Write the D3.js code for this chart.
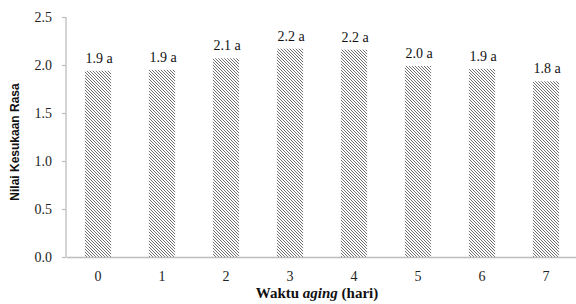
<!DOCTYPE html>
<html>
<head>
<meta charset="utf-8">
<script src="https://cdn.jsdelivr.net/npm/d3@7"></script>
<style>
  body { margin: 0; background: #fff; }
  svg { display: block; }
  .serif { font-family: "Liberation Serif", "DejaVu Serif", "Noto Serif", serif; }
  .sans { font-family: "Liberation Sans", Arial, sans-serif; }
</style>
</head>
<body>
<div id="chart"></div>
<script>
// data
const days = ["0", "1", "2", "3", "4", "5", "6", "7"];
const scores = [1.94, 1.95, 2.07, 2.17, 2.16, 1.99, 1.96, 1.83];
const labels = ["1.9 a", "1.9 a", "2.1 a", "2.2 a", "2.2 a", "2.0 a", "1.9 a", "1.8 a"];
const yTicks = [0, 0.5, 1, 1.5, 2, 2.5];

const W = 576, H = 304;
const margin = {top: 17, right: -2, bottom: 47, left: 66};
const width = W - margin.left - margin.right;
const height = H - margin.top - margin.bottom;

const svg = d3.select("#chart").append("svg")
  .attr("width", W).attr("height", H);

// hatch pattern (dark downward diagonal)
const defs = svg.append("defs");
const pat = defs.append("pattern")
  .attr("id", "hatch")
  .attr("patternUnits", "userSpaceOnUse")
  .attr("width", 3).attr("height", 3);
pat.append("rect").attr("width", 3).attr("height", 3).attr("fill", "#ffffff");
pat.append("path")
  .attr("d", "M-1,-1 L4,4 M-1,2 L1,4 M2,-1 L4,1")
  .attr("stroke", "#707070").attr("stroke-width", 1);

const g = svg.append("g")
  .attr("transform", "translate(" + margin.left + "," + margin.top + ")");

const x = d3.scaleBand().domain(days).range([0, width]).paddingInner(0.59).paddingOuter(0.295);
const y = d3.scaleLinear().domain([0, 2.5]).range([height, 0]);

// bars
g.selectAll("rect.bar").data(scores).enter().append("rect")
  .attr("class", "bar")
  .attr("x", (d, i) => x(days[i]))
  .attr("y", d => y(d))
  .attr("width", x.bandwidth())
  .attr("height", d => y(0) - y(d))
  .attr("fill", "url(#hatch)");

// value labels
g.selectAll("text.val").data(scores).enter().append("text")
  .attr("class", "val serif")
  .attr("x", (d, i) => x(days[i]) + x.bandwidth() / 2 + 1)
  .attr("y", d => y(d) - 8)
  .attr("text-anchor", "middle")
  .style("font-size", "14px")
  .attr("fill", "#111")
  .text((d, i) => labels[i]);

// y axis
const yAxis = d3.axisLeft(y).tickValues(yTicks).tickFormat(d3.format(".1f")).tickSize(4).tickPadding(10);
const ya = g.append("g").call(yAxis).attr("font-family", null);
ya.select(".domain").attr("stroke", "#bdbdbd").attr("stroke-width", 1.3).attr("d", "M0," + y(2.5) + "V" + y(0));
ya.selectAll(".tick line").attr("stroke", "#bdbdbd").attr("stroke-width", 1.2);
ya.selectAll(".tick text")
  .attr("class", "serif")
  .style("font-size", "14px").attr("fill", "#222");

// x axis
const xAxis = d3.axisBottom(x).tickSize(0).tickPadding(14);
const xa = g.append("g").attr("transform", "translate(0," + height + ")").call(xAxis).attr("font-family", null);
xa.select(".domain").attr("stroke", "#bdbdbd").attr("stroke-width", 1.5);
xa.selectAll(".tick text")
  .attr("class", "serif")
  .style("font-size", "14px").attr("fill", "#222");

// axis titles
svg.append("text")
  .attr("class", "sans")
  .attr("transform", "translate(19," + 142 + ") rotate(-90)")
  .attr("text-anchor", "middle")
  .attr("font-weight", "bold")
  .style("font-size", "12px")
  .attr("fill", "#111")
  .text("Nilai Kesukaan Rasa");

const xt = svg.append("text")
  .attr("class", "serif")
  .attr("x", 317).attr("y", 298)
  .attr("text-anchor", "middle")
  .attr("font-weight", "bold")
  .style("font-size", "15px")
  .attr("fill", "#111");
xt.append("tspan").text("Waktu ");
xt.append("tspan").attr("font-style", "italic").text("aging");
xt.append("tspan").text(" (hari)");
</script>
</body>
</html>
